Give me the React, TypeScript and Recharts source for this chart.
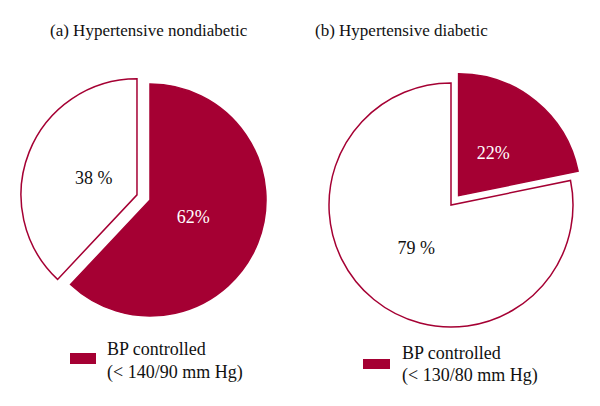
import { PieChart, Pie, Cell } from 'recharts';

const titles = ['(a) Hypertensive nondiabetic', '(b) Hypertensive diabetic'];
const categories = ['BP controlled', 'BP not controlled'];
const nondiabeticValues = [62, 38];
const diabeticValues = [22, 79];
const nondiabeticLabels = ['62%', '38 %'];
const diabeticLabels = ['22%', '79 %'];
const legendFirstLines = ['BP controlled', 'BP controlled'];
const legendSecondLines = ['(< 140/90 mm Hg)', '(< 130/80 mm Hg)'];

const CRIMSON = '#a50033';
const FONT = '"Liberation Serif", "Times New Roman", serif';
const RADIAN = Math.PI / 180;

// shift a pie centre outward along the middle of one slice
function explode(values: number[], index: number, cx: number, cy: number, dist: number) {
  const total = values.reduce((a, b) => a + b, 0);
  const before = values.slice(0, index).reduce((a, b) => a + b, 0);
  const mid = 90 - (360 * (before + values[index] / 2)) / total;
  return { cx: cx + dist * Math.cos(mid * RADIAN), cy: cy - dist * Math.sin(mid * RADIAN) };
}

const fills = [CRIMSON, '#ffffff'];
const textColors = ['#ffffff', '#111111'];

function makeLabel(labels: string[], shown: number, ratio: number) {
  return (props: any) => {
    const { cx, cy, midAngle, outerRadius, index } = props;
    if (index !== shown) return null;
    const r = outerRadius * ratio;
    const x = cx + r * Math.cos(-midAngle * RADIAN);
    const y = cy + r * Math.sin(-midAngle * RADIAN);
    return (
      <text x={x} y={y} fill={textColors[index]} textAnchor="middle" dominantBaseline="central"
        style={{ fontFamily: FONT, fontSize: 18 }}>
        {labels[index]}
      </text>
    );
  };
}

type PanelProps = {
  values: number[];
  labels: string[];
  explodeIndex: number;
  cx: number;
  cy: number;
  radius: number;
  dist: number;
  ratio: number;
};

function PiePanel({ values, labels, explodeIndex, cx, cy, radius, dist, ratio }: PanelProps) {
  const data = categories.map((name, i) => ({ name, value: values[i] }));
  const out = explode(values, explodeIndex, cx, cy, dist);
  const baseIndex = explodeIndex === 0 ? 1 : 0;
  return (
    <PieChart width={300} height={406} margin={{ top: 0, right: 0, bottom: 0, left: 0 }}>
      <Pie data={data} dataKey="value" cx={cx} cy={cy} outerRadius={radius}
        startAngle={90} endAngle={-270} isAnimationActive={false}
        labelLine={false} label={makeLabel(labels, baseIndex, ratio)}>
        {data.map((d, i) => (
          <Cell key={d.name} fill={i === baseIndex ? fills[i] : 'none'}
            stroke={i === baseIndex ? CRIMSON : 'none'} strokeWidth={1.5} />
        ))}
      </Pie>
      <Pie data={data} dataKey="value" cx={out.cx} cy={out.cy} outerRadius={radius}
        startAngle={90} endAngle={-270} isAnimationActive={false}
        labelLine={false} label={makeLabel(labels, explodeIndex, ratio)}>
        {data.map((d, i) => (
          <Cell key={d.name} fill={i === explodeIndex ? fills[i] : 'none'}
            stroke={i === explodeIndex ? CRIMSON : 'none'} strokeWidth={1.5} />
        ))}
      </Pie>
    </PieChart>
  );
}

export default function App() {
  const text = { position: 'absolute' as const, fontFamily: FONT, fontSize: 18, lineHeight: '18px', color: '#111', whiteSpace: 'nowrap' as const };
  return (
    <div style={{ position: 'relative', width: 600, height: 406, background: '#fff' }}>
      <style>{'body{margin:0}'}</style>
      <div style={{ position: 'absolute', left: 0, top: 0 }}>
        <PiePanel values={nondiabeticValues} labels={nondiabeticLabels} explodeIndex={1}
          cx={150} cy={200} radius={116} dist={14} ratio={0.4} />
      </div>
      <div style={{ position: 'absolute', left: 300, top: 0 }}>
        <PiePanel values={diabeticValues} labels={diabeticLabels} explodeIndex={0}
          cx={151} cy={205} radius={122} dist={12} ratio={0.45} />
      </div>

      <div style={{ ...text, fontSize: 17, left: 50, top: 22 }}>{titles[0]}</div>
      <div style={{ ...text, fontSize: 17, left: 315, top: 22 }}>{titles[1]}</div>

      <div style={{ position: 'absolute', left: 70, top: 353, width: 26, height: 11, background: CRIMSON }} />
      <div style={{ ...text, left: 107, top: 340 }}>{legendFirstLines[0]}</div>
      <div style={{ ...text, left: 107, top: 363 }}>{legendSecondLines[0]}</div>

      <div style={{ position: 'absolute', left: 363, top: 359, width: 27, height: 10, background: CRIMSON }} />
      <div style={{ ...text, left: 402, top: 344 }}>{legendFirstLines[1]}</div>
      <div style={{ ...text, left: 402, top: 366 }}>{legendSecondLines[1]}</div>
    </div>
  );
}
